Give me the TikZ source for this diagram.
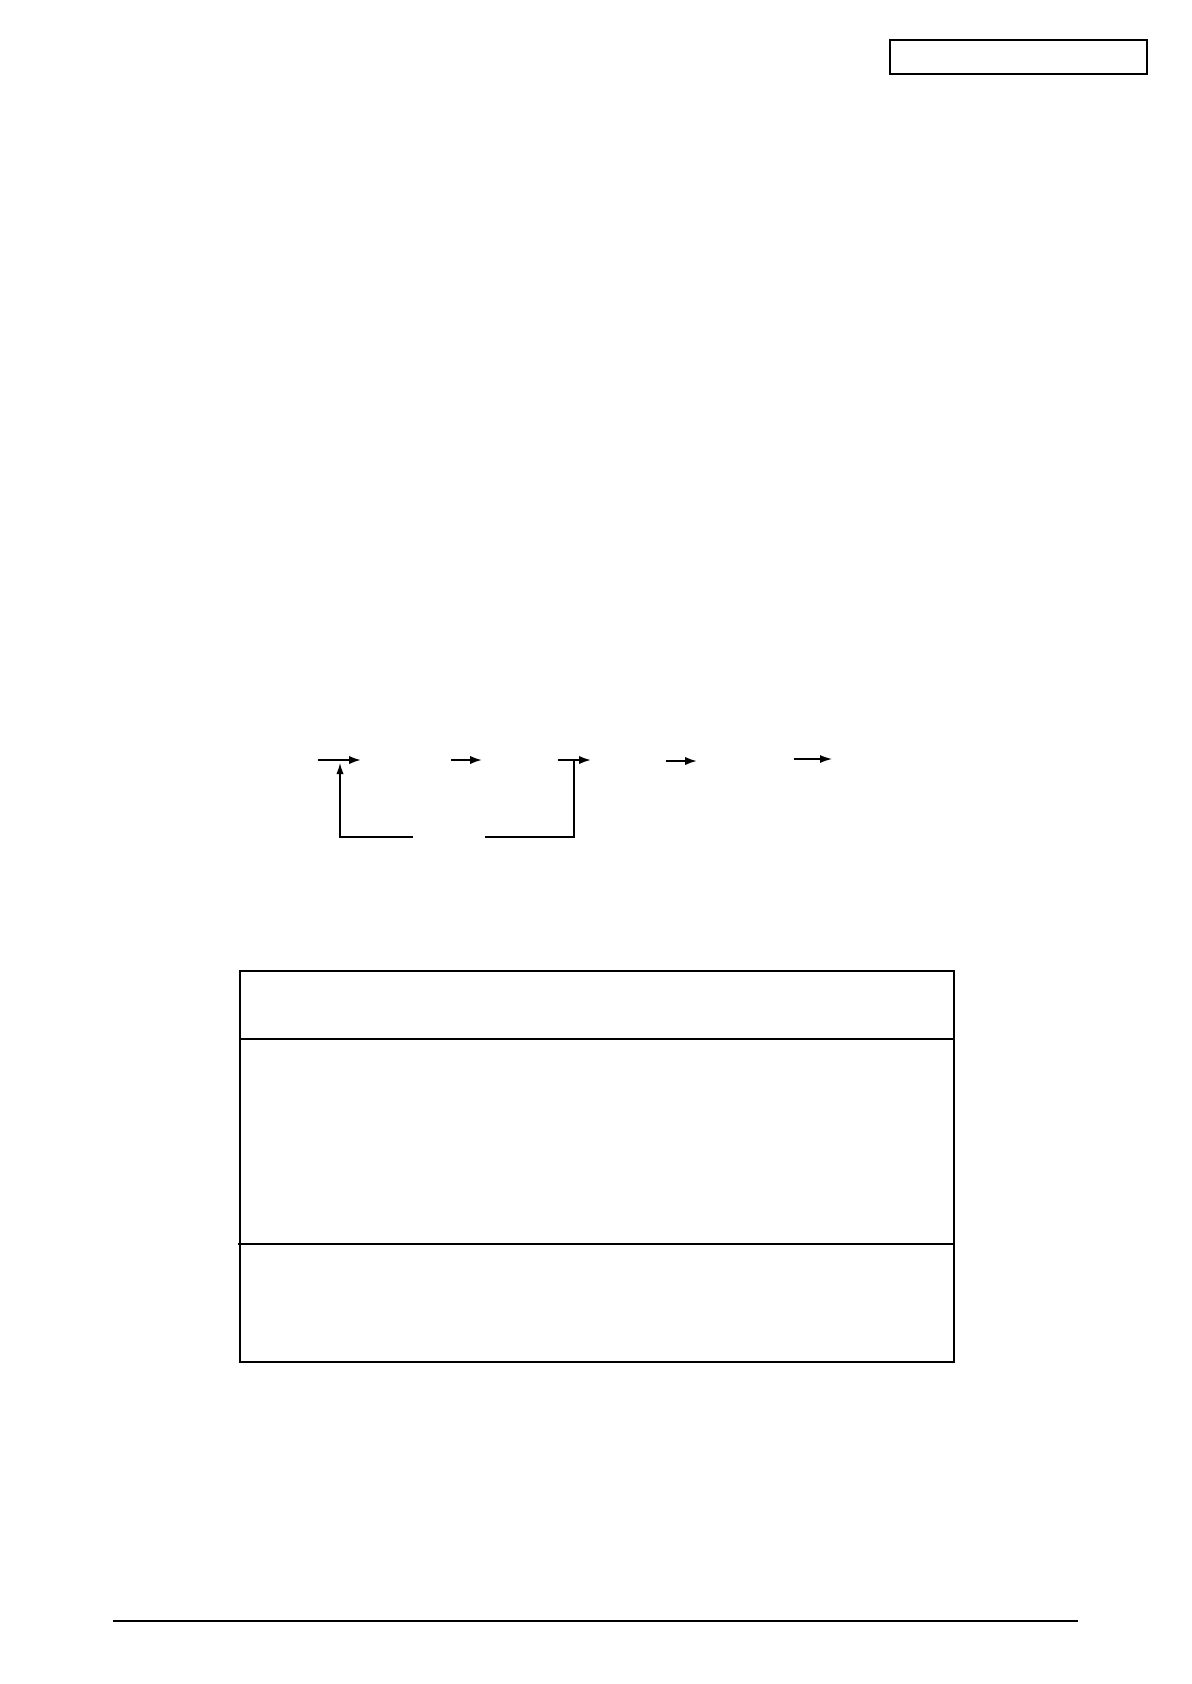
\documentclass[tikz,border=0pt]{standalone}
\usepackage{tikz}
\usetikzlibrary{arrows.meta, positioning}

\begin{document}
\begin{tikzpicture}[
      x=0.5pt, y=-0.5pt,
      % Define compact styles
      flow/.style={-{Latex[length=6pt,width=4.2pt]}, line width=1pt},
      thinflow/.style={-{Latex[length=6pt,width=4pt]}, line width=0.6pt},
      loop/.style={line width=0.6pt},
      frame/.style={draw, line width=1pt},
      rule/.style={line width=0.55pt}
    ]
    \useasboundingbox (0,0) rectangle (1191,1684);

    % Page header box
    \draw[rule] (890,40) rectangle (1147,74);

    % Top row - arrow ends
    \coordinate (a1) at (318,760);  \coordinate (b1) at (361,760);
    \coordinate (a2) at (451,760);  \coordinate (b2) at (482,760);
    \coordinate (a3) at (558,760);  \coordinate (b3) at (591,760);
    \coordinate (a4) at (666,761);  \coordinate (b4) at (697,761);
    \coordinate (a5) at (794,759);  \coordinate (b5) at (832,759);

    % Bottom row - loop ends
    \coordinate (loopL) at (413,837);
    \coordinate (upto)  at (340,763);
    \coordinate (loopR) at (485,837);
    \coordinate (tap)   at (574,760);

    % Arrows
    \draw[flow] (a1) -- (b1);
    \draw[flow] (a2) -- (b2);
    \draw[flow] (a3) -- (b3);
    \draw[flow] (a4) -- (b4);
    \draw[thinflow] (a5) -- (b5);

    % Loop back
    \draw[loop, -{Latex[length=5.5pt,width=3.6pt]}] (loopL) -| (upto);
    \draw[loop] (tap) |- (loopR);

    % Table
    \coordinate (tl) at (240,971);
    \coordinate (br) at (954,1362);
    \draw[frame] (tl) rectangle (br);
    \draw[frame] (240,1039) -- (954,1039);
    \draw[frame] (238,1244) -- (954,1244);

    % Footer rule
    \draw[rule] (113,1621) -- (1078,1621);

  \end{tikzpicture}
\end{document}
